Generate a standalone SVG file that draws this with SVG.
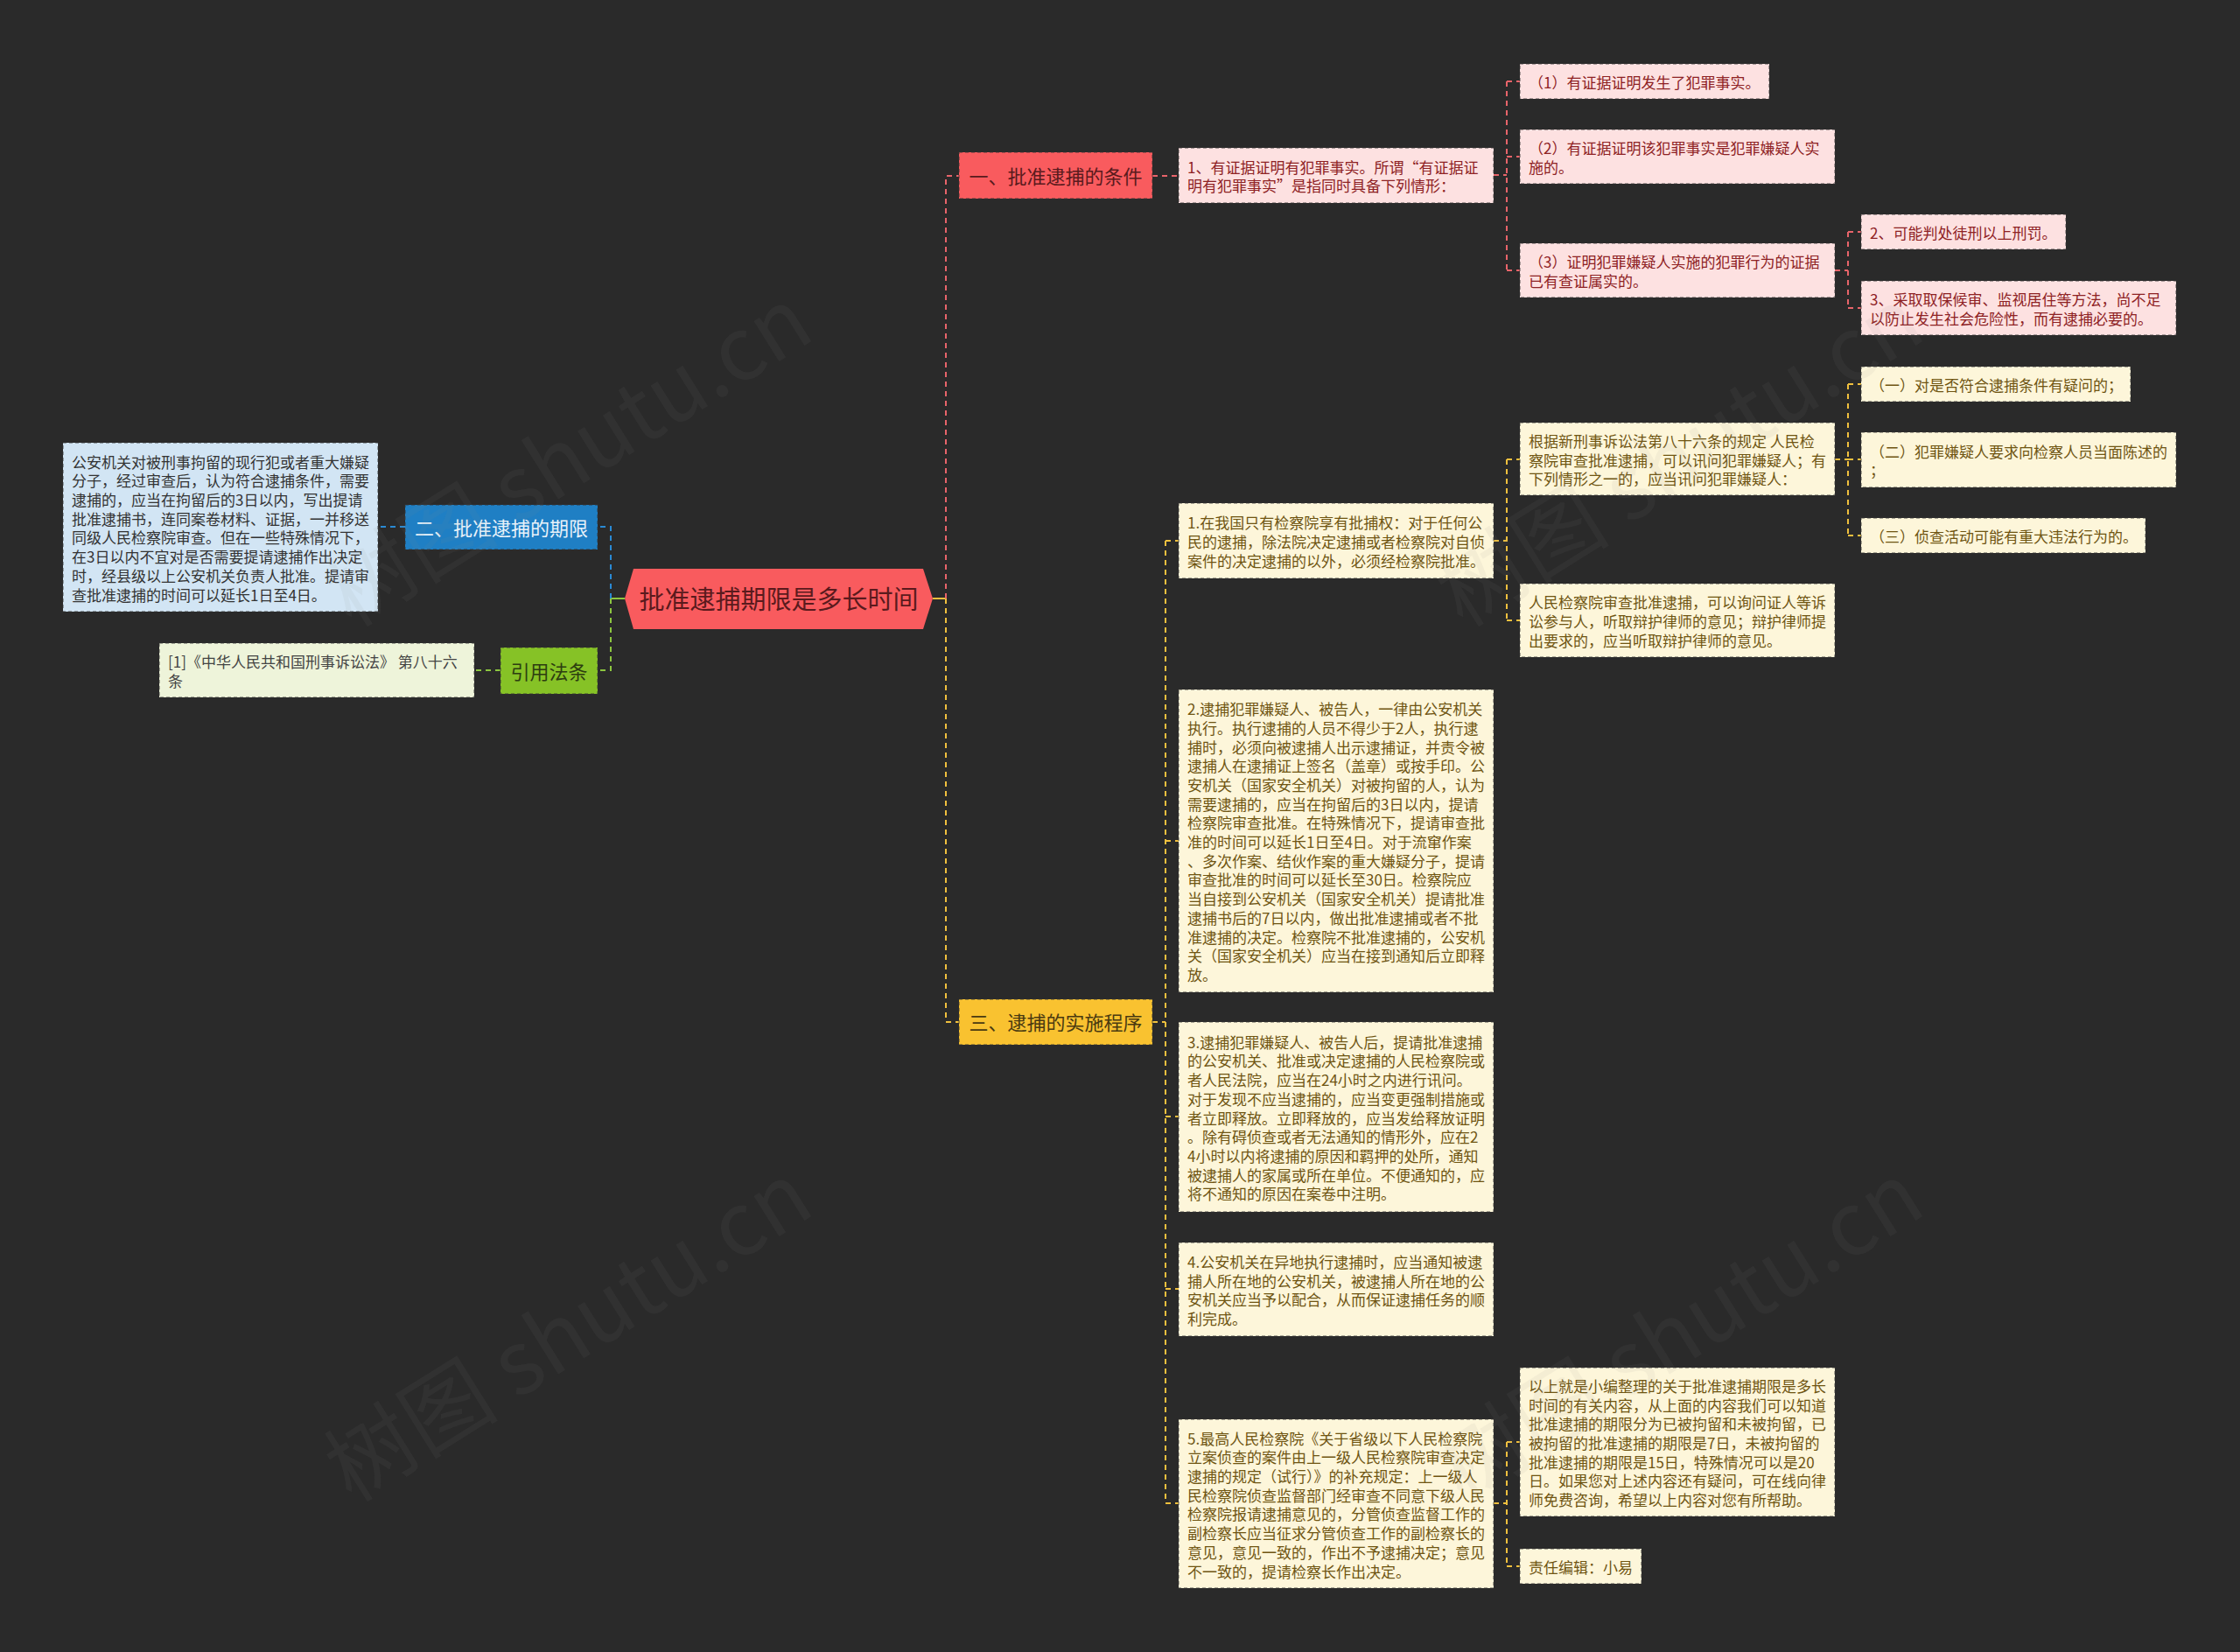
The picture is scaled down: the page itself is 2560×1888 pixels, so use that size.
<svg xmlns="http://www.w3.org/2000/svg" width="2560" height="1888" viewBox="0 0 2560 1888">
<style>
text{font-family:"Noto Sans CJK SC","Noto Sans",sans-serif;dominant-baseline:central}
.t{font-size:17px}
.br{font-size:22px;text-anchor:middle}
.box{stroke:#333;stroke-opacity:.55;stroke-width:1.5;stroke-dasharray:4 3}
.pk{fill:#fde1e1}.pkt{fill:#8e2224}
.yl{fill:#fdf6da}.ylt{fill:#6f5512}
.c{fill:none;stroke-width:2;stroke-dasharray:6 5}
.cr{stroke:#e8646a}.cy{stroke:#f0c03e}.cb{stroke:#2a8ad4}.cg{stroke:#8cc63f}
.wm{font-size:100px;fill:#8a8a8a;fill-opacity:.08;text-anchor:middle}
</style>
<rect width="2560" height="1888" fill="#2a2a2a"/>

<g id="connectors">
<path d="M1066,684H1081" fill="none" stroke="#f0c03e" stroke-width="2"/>
<path d="M714,684H698" fill="none" stroke="#8cc63f" stroke-width="2"/>
<path class="c cr" d="M1081,684V201H1096M1317,201H1347M1707,200H1722M1722,93V309M1722,93H1737M1722,179H1737M1722,309H1737M2097,309H2112M2112,265V352M2112,265H2127M2112,352H2127"/>
<path class="c cy" d="M1081,684V1168H1096M1317,1168H1332M1332,618V1718M1332,618H1347M1332,961H1347M1332,1276H1347M1332,1473H1347M1332,1718H1347M1707,618H1722M1722,525V709M1722,525H1737M1722,709H1737M2097,525H2112M2112,439V612M2112,439H2127M2112,525H2127M2112,612H2127M1707,1718H1722M1722,1648V1790M1722,1648H1737M1722,1790H1737"/>
<path class="c cb" d="M698,684V602H683M463,602H432"/>
<path class="c cg" d="M698,684V766H683M572,766H542"/>
</g>

<g id="root">
<polygon points="714,684 724,650 1055,650 1066,684 1055,719 724,719" fill="#f95b5e"/>
<text x="890" y="683" font-size="29" text-anchor="middle" fill="#5a1a1d">批准逮捕期限是多长时间</text>
</g>

<g id="branch1">
<rect class="box" x="1096" y="174" width="221" height="53" fill="#f95b5e"/>
<text class="br" x="1206.5" y="199.5" fill="#5a1a1d">一、批准逮捕的条件</text>
</g>
<g id="branch2">
<rect class="box" x="463" y="577" width="220" height="51" fill="#1f7fc4"/>
<text class="br" x="573" y="601.5" fill="#e8f2fa">二、批准逮捕的期限</text>
</g>
<g id="branch-law">
<rect class="box" x="572" y="740" width="111" height="53" fill="#86c226"/>
<text class="br" x="627.5" y="765.5" fill="#2d3d10">引用法条</text>
</g>
<g id="branch3">
<rect class="box" x="1096" y="1142" width="221" height="52" fill="#f9c230"/>
<text class="br" x="1206.5" y="1167" fill="#4a3a10">三、逮捕的实施程序</text>
</g>

<g id="left-detail">
<rect class="box" x="72" y="506" width="360" height="193" fill="#d2e5f4"/>
<text class="t" fill="#333">
<tspan x="82" y="526.6">公安机关对被刑事拘留的现行犯或者重大嫌疑</tspan>
<tspan x="82" y="548.3">分子，经过审查后，认为符合逮捕条件，需要</tspan>
<tspan x="82" y="570">逮捕的，应当在拘留后的3日以内，写出提请</tspan>
<tspan x="82" y="591.7">批准逮捕书，连同案卷材料、证据，一并移送</tspan>
<tspan x="82" y="613.4">同级人民检察院审查。但在一些特殊情况下，</tspan>
<tspan x="82" y="635.1">在3日以内不宜对是否需要提请逮捕作出决定</tspan>
<tspan x="82" y="656.8">时，经县级以上公安机关负责人批准。提请审</tspan>
<tspan x="82" y="678.5">查批准逮捕的时间可以延长1日至4日。</tspan>
</text>
</g>

<g id="law-detail">
<rect class="box" x="182" y="735" width="360" height="62" fill="#eef4da"/>
<text class="t" fill="#444">
<tspan x="192" y="755.2">[1]《中华人民共和国刑事诉讼法》 第八十六</tspan>
<tspan x="192" y="776.9">条</tspan>
</text>
</g>

<g id="cond-1">
<rect class="box pk" x="1347" y="169" width="360" height="63"/>
<text class="t pkt">
<tspan x="1357" y="189.7">1、有证据证明有犯罪事实。所谓“有证据证</tspan>
<tspan x="1357" y="211.4">明有犯罪事实”是指同时具备下列情形：</tspan>
</text>
</g>
<g id="cond-1-1">
<rect class="box pk" x="1737" y="73" width="285" height="40"/>
<text class="t pkt" x="1747" y="93">（1）有证据证明发生了犯罪事实。</text>
</g>
<g id="cond-1-2">
<rect class="box pk" x="1737" y="148" width="360" height="62"/>
<text class="t pkt">
<tspan x="1747" y="168.2">（2）有证据证明该犯罪事实是犯罪嫌疑人实</tspan>
<tspan x="1747" y="189.9">施的。</tspan>
</text>
</g>
<g id="cond-1-3">
<rect class="box pk" x="1737" y="278" width="360" height="62"/>
<text class="t pkt">
<tspan x="1747" y="298.2">（3）证明犯罪嫌疑人实施的犯罪行为的证据</tspan>
<tspan x="1747" y="319.9">已有查证属实的。</tspan>
</text>
</g>
<g id="cond-2">
<rect class="box pk" x="2127" y="245" width="234" height="40"/>
<text class="t pkt" x="2137" y="265">2、可能判处徒刑以上刑罚。</text>
</g>
<g id="cond-3">
<rect class="box pk" x="2127" y="321" width="360" height="62"/>
<text class="t pkt">
<tspan x="2137" y="341.2">3、采取取保候审、监视居住等方法，尚不足</tspan>
<tspan x="2137" y="362.9">以防止发生社会危险性，而有逮捕必要的。</tspan>
</text>
</g>

<g id="proc-1">
<rect class="box yl" x="1347" y="575" width="360" height="86"/>
<text class="t ylt">
<tspan x="1357" y="596.3">1.在我国只有检察院享有批捕权：对于任何公</tspan>
<tspan x="1357" y="618">民的逮捕，除法院决定逮捕或者检察院对自侦</tspan>
<tspan x="1357" y="639.7">案件的决定逮捕的以外，必须经检察院批准。</tspan>
</text>
</g>
<g id="proc-1-a">
<rect class="box yl" x="1737" y="483" width="360" height="83"/>
<text class="t ylt">
<tspan x="1747" y="502.8">根据新刑事诉讼法第八十六条的规定 人民检</tspan>
<tspan x="1747" y="524.5">察院审查批准逮捕，可以讯问犯罪嫌疑人；有</tspan>
<tspan x="1747" y="546.2">下列情形之一的，应当讯问犯罪嫌疑人：</tspan>
</text>
</g>
<g id="proc-1-a1">
<rect class="box yl" x="2127" y="419" width="308" height="40"/>
<text class="t ylt" x="2137" y="439">（一）对是否符合逮捕条件有疑问的；</text>
</g>
<g id="proc-1-a2">
<rect class="box yl" x="2127" y="494" width="360" height="63"/>
<text class="t ylt">
<tspan x="2137" y="514.7">（二）犯罪嫌疑人要求向检察人员当面陈述的</tspan>
<tspan x="2137" y="536.4">；</tspan>
</text>
</g>
<g id="proc-1-a3">
<rect class="box yl" x="2127" y="592" width="325" height="40"/>
<text class="t ylt" x="2137" y="612">（三）侦查活动可能有重大违法行为的。</text>
</g>
<g id="proc-1-b">
<rect class="box yl" x="1737" y="667" width="360" height="84"/>
<text class="t ylt">
<tspan x="1747" y="687.3">人民检察院审查批准逮捕，可以询问证人等诉</tspan>
<tspan x="1747" y="709">讼参与人，听取辩护律师的意见；辩护律师提</tspan>
<tspan x="1747" y="730.7">出要求的，应当听取辩护律师的意见。</tspan>
</text>
</g>

<g id="proc-2">
<rect class="box yl" x="1347" y="788" width="360" height="346"/>
<text class="t ylt">
<tspan x="1357" y="809.1">2.逮捕犯罪嫌疑人、被告人，一律由公安机关</tspan>
<tspan x="1357" y="830.8">执行。执行逮捕的人员不得少于2人，执行逮</tspan>
<tspan x="1357" y="852.5">捕时，必须向被逮捕人出示逮捕证，并责令被</tspan>
<tspan x="1357" y="874.2">逮捕人在逮捕证上签名（盖章）或按手印。公</tspan>
<tspan x="1357" y="895.9">安机关（国家安全机关）对被拘留的人，认为</tspan>
<tspan x="1357" y="917.6">需要逮捕的，应当在拘留后的3日以内，提请</tspan>
<tspan x="1357" y="939.3">检察院审查批准。在特殊情况下，提请审查批</tspan>
<tspan x="1357" y="961">准的时间可以延长1日至4日。对于流窜作案</tspan>
<tspan x="1357" y="982.7">、多次作案、结伙作案的重大嫌疑分子，提请</tspan>
<tspan x="1357" y="1004.4">审查批准的时间可以延长至30日。检察院应</tspan>
<tspan x="1357" y="1026.1">当自接到公安机关（国家安全机关）提请批准</tspan>
<tspan x="1357" y="1047.8">逮捕书后的7日以内，做出批准逮捕或者不批</tspan>
<tspan x="1357" y="1069.5">准逮捕的决定。检察院不批准逮捕的，公安机</tspan>
<tspan x="1357" y="1091.2">关（国家安全机关）应当在接到通知后立即释</tspan>
<tspan x="1357" y="1112.9">放。</tspan>
</text>
</g>

<g id="proc-3">
<rect class="box yl" x="1347" y="1168" width="360" height="217"/>
<text class="t ylt">
<tspan x="1357" y="1189.7">3.逮捕犯罪嫌疑人、被告人后，提请批准逮捕</tspan>
<tspan x="1357" y="1211.4">的公安机关、批准或决定逮捕的人民检察院或</tspan>
<tspan x="1357" y="1233.1">者人民法院，应当在24小时之内进行讯问。</tspan>
<tspan x="1357" y="1254.8">对于发现不应当逮捕的，应当变更强制措施或</tspan>
<tspan x="1357" y="1276.5">者立即释放。立即释放的，应当发给释放证明</tspan>
<tspan x="1357" y="1298.2">。除有碍侦查或者无法通知的情形外，应在2</tspan>
<tspan x="1357" y="1319.9">4小时以内将逮捕的原因和羁押的处所，通知</tspan>
<tspan x="1357" y="1341.6">被逮捕人的家属或所在单位。不便通知的，应</tspan>
<tspan x="1357" y="1363.3">将不通知的原因在案卷中注明。</tspan>
</text>
</g>

<g id="proc-4">
<rect class="box yl" x="1347" y="1420" width="360" height="107"/>
<text class="t ylt">
<tspan x="1357" y="1441">4.公安机关在异地执行逮捕时，应当通知被逮</tspan>
<tspan x="1357" y="1462.7">捕人所在地的公安机关，被逮捕人所在地的公</tspan>
<tspan x="1357" y="1484.4">安机关应当予以配合，从而保证逮捕任务的顺</tspan>
<tspan x="1357" y="1506.1">利完成。</tspan>
</text>
</g>

<g id="proc-5">
<rect class="box yl" x="1347" y="1622" width="360" height="193"/>
<text class="t ylt">
<tspan x="1357" y="1642.6">5.最高人民检察院《关于省级以下人民检察院</tspan>
<tspan x="1357" y="1664.3">立案侦查的案件由上一级人民检察院审查决定</tspan>
<tspan x="1357" y="1686">逮捕的规定（试行）》的补充规定：上一级人</tspan>
<tspan x="1357" y="1707.7">民检察院侦查监督部门经审查不同意下级人民</tspan>
<tspan x="1357" y="1729.4">检察院报请逮捕意见的，分管侦查监督工作的</tspan>
<tspan x="1357" y="1751.1">副检察长应当征求分管侦查工作的副检察长的</tspan>
<tspan x="1357" y="1772.8">意见，意见一致的，作出不予逮捕决定；意见</tspan>
<tspan x="1357" y="1794.5">不一致的，提请检察长作出决定。</tspan>
</text>
</g>

<g id="proc-5-a">
<rect class="box yl" x="1737" y="1563" width="360" height="170"/>
<text class="t ylt">
<tspan x="1747" y="1582.9">以上就是小编整理的关于批准逮捕期限是多长</tspan>
<tspan x="1747" y="1604.6">时间的有关内容，从上面的内容我们可以知道</tspan>
<tspan x="1747" y="1626.3">批准逮捕的期限分为已被拘留和未被拘留，已</tspan>
<tspan x="1747" y="1648">被拘留的批准逮捕的期限是7日，未被拘留的</tspan>
<tspan x="1747" y="1669.7">批准逮捕的期限是15日，特殊情况可以是20</tspan>
<tspan x="1747" y="1691.4">日。如果您对上述内容还有疑问，可在线向律</tspan>
<tspan x="1747" y="1713.1">师免费咨询，希望以上内容对您有所帮助。</tspan>
</text>
</g>
<g id="proc-5-b">
<rect class="box yl" x="1737" y="1770" width="139" height="40"/>
<text class="t ylt" x="1747" y="1790">责任编辑：小易</text>
</g>

<g id="watermarks">
<text class="wm" transform="translate(645,515) rotate(-32)">树图 shutu.cn</text>
<text class="wm" transform="translate(645,1515) rotate(-32)">树图 shutu.cn</text>
<text class="wm" transform="translate(1915,515) rotate(-32)">树图 shutu.cn</text>
<text class="wm" transform="translate(1915,1515) rotate(-32)">树图 shutu.cn</text>
</g>
</svg>
